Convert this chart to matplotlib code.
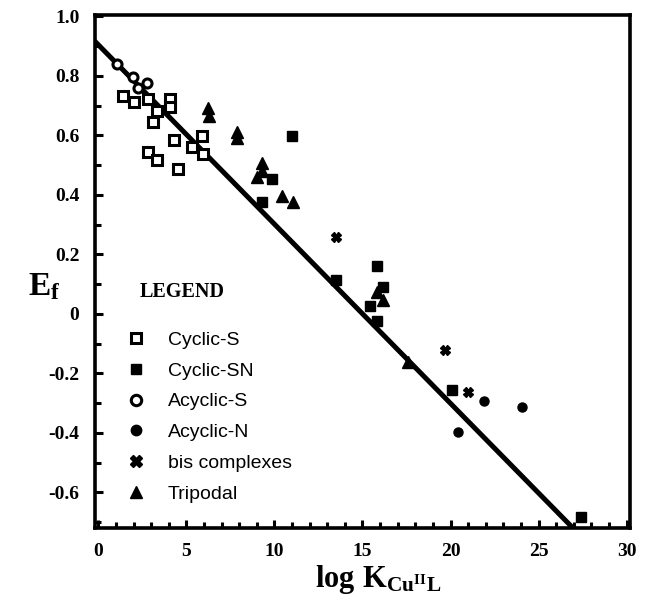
import numpy as np
import matplotlib
matplotlib.use("Agg")
import matplotlib.pyplot as plt
from matplotlib.ticker import MultipleLocator, FuncFormatter

# data
cyc_s_x = [1.42, 2.05, 2.84, 4.09, 4.09, 3.35, 3.13, 4.32, 5.34, 5.91, 5.97, 2.84, 3.35, 4.55]
cyc_s_y = [0.731, 0.714, 0.724, 0.724, 0.697, 0.681, 0.644, 0.583, 0.560, 0.597, 0.539, 0.543, 0.519, 0.486]

cyc_sn_x = [11.02, 9.89, 9.32, 13.47, 15.80, 16.19, 15.40, 15.80, 20.11, 27.39]
cyc_sn_y = [0.597, 0.455, 0.375, 0.113, 0.160, 0.089, 0.025, -0.025, -0.257, -0.684]

acyc_s_x = [1.08, 1.99, 2.78, 2.27]
acyc_s_y = [0.839, 0.795, 0.778, 0.758]

acyc_n_x = [20.45, 21.88, 24.03]
acyc_n_y = [-0.398, -0.294, -0.314]

bis_x = [13.52, 19.66, 20.97]
bis_y = [0.257, -0.123, -0.264]

trip_x = [6.25, 6.31, 7.90, 7.90, 9.32, 9.32, 9.03, 10.45, 11.08, 15.80, 16.14, 17.61]
trip_y = [0.691, 0.667, 0.610, 0.593, 0.509, 0.479, 0.459, 0.398, 0.375, 0.072, 0.045, -0.163]

# regression line Ef = a + b*logK
fit_a = 0.905
fit_b = -0.0603

plt.rcParams['mathtext.fontset'] = 'custom'
plt.rcParams['mathtext.rm'] = 'Liberation Serif:bold'
plt.rcParams['mathtext.bf'] = 'Liberation Serif:bold'
plt.rcParams['mathtext.it'] = 'Liberation Serif:bold'

fig = plt.figure(figsize=(6.49, 6.0), dpi=100)
ax = fig.add_axes([0.146, 0.12, 0.825, 0.855])

xx = np.array([-0.2, 30.2])
ax.plot(xx, fit_a + fit_b * xx, color='k', lw=3.6, solid_capstyle='butt', zorder=2)

ax.plot(cyc_s_x, cyc_s_y, 's', ms=6.5, mfc='white', mec='k', mew=2.2, ls='none', label='Cyclic-S', zorder=3)
ax.plot(cyc_sn_x, cyc_sn_y, 's', ms=6.5, color='k', ls='none', label='Cyclic-SN', zorder=3)
ax.plot(acyc_s_x, acyc_s_y, 'o', ms=6.5, mfc='white', mec='k', mew=2.2, ls='none', label='Acyclic-S', zorder=3)
ax.plot(acyc_n_x, acyc_n_y, 'o', ms=6.5, color='k', ls='none', label='Acyclic-N', zorder=3)
ax.plot(bis_x, bis_y, 'X', ms=7, color='k', ls='none', label='bis complexes', zorder=3)
ax.plot(trip_x, trip_y, '^', ms=8, color='k', ls='none', label='Tripodal', zorder=3)

ax.set_xlim(-0.2, 30.2)
ax.set_ylim(-0.72, 1.005)

for s in ax.spines.values():
    s.set_linewidth(2.6)

ax.xaxis.set_major_locator(MultipleLocator(5))
ax.xaxis.set_minor_locator(MultipleLocator(1))
ax.yaxis.set_major_locator(MultipleLocator(0.2))
ax.yaxis.set_minor_locator(MultipleLocator(0.1))
ax.tick_params(which='both', direction='in', top=False, right=False, width=2.2)
ax.tick_params(which='major', length=6)
ax.tick_params(which='minor', length=4)
ax.tick_params(axis='x', pad=11)
ax.tick_params(axis='y', pad=11)

def yfmt(v, pos):
    if abs(v) < 1e-9:
        return '0'
    return ('%.1f' % v).replace('\u2212', '-')

ax.yaxis.set_major_formatter(FuncFormatter(yfmt))
ax.xaxis.set_major_formatter(FuncFormatter(lambda v, p: '%d' % round(v)))
for lab in ax.get_xticklabels() + ax.get_yticklabels():
    lab.set_fontfamily('Liberation Serif')
    lab.set_fontweight('bold')
    lab.set_fontsize(14)

ax.set_xlabel(r'$\mathrm{log\ K_{Cu^{II}L}}$', fontsize=22)
ax.xaxis.set_label_coords(0.53, -0.068)
ax.set_ylabel(r'$\mathrm{E_f}$', fontsize=24, rotation=0, labelpad=0)
ax.yaxis.set_label_coords(-0.095, 0.44)

ax.text(0.084, 0.46, 'LEGEND', transform=ax.transAxes, fontsize=14.5, fontweight='bold',
        family='Liberation Serif', va='center', ha='left')
leg = ax.legend(loc='lower left', bbox_to_anchor=(0.04, 0.03), frameon=False,
                prop={'family': 'Liberation Sans', 'size': 14}, handlelength=1.0,
                handletextpad=1.15, labelspacing=0.68, borderpad=0, markerscale=1.15)

fig.savefig('out.png', dpi=100)
